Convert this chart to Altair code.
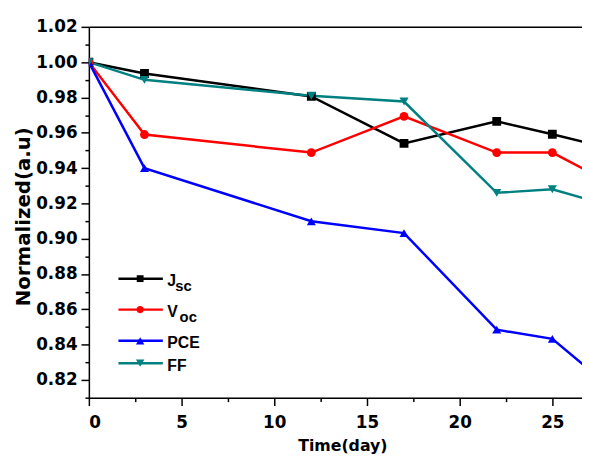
import altair as alt
import pandas as pd

# ---- data ----
days = [0, 3, 12, 17, 22, 25, 28]
jsc = [1.000, 0.9936, 0.9806, 0.954, 0.9665, 0.9592, 0.9514]
voc = [1.000, 0.959, 0.9488, 0.9693, 0.9488, 0.9488, 0.9323]
pce = [1.000, 0.940, 0.9099, 0.9032, 0.8485, 0.8433, 0.817]
ff = [1.000, 0.990, 0.981, 0.9777, 0.926, 0.928, 0.919]

series_names = ["Jsc", "Voc", "PCE", "FF"]
legend_main = ["J", "V", "PCE", "FF"]
legend_sub = ["sc", "oc", "", ""]
colors = ["#000000", "#FF0000", "#0000FF", "#008080"]
shapes = ["square", "circle", "triangle-up", "triangle-down"]
marker_sizes = [80, 85, 120, 120]

x_major = [0, 5, 10, 15, 20, 25]
x_minor = [2.5, 7.5, 12.5, 17.5, 22.5]
y_major = [0.82, 0.84, 0.86, 0.88, 0.90, 0.92, 0.94, 0.96, 0.98, 1.00, 1.02]
y_minor = [0.81, 0.83, 0.85, 0.87, 0.89, 0.91, 0.93, 0.95, 0.97, 0.99, 1.01]

rows = []
for name, vals in zip(series_names, [jsc, voc, pce, ff]):
    for d, v in zip(days, vals):
        rows.append({"day": d, "value": v, "series": name})
df = pd.DataFrame(rows)

W, H = 500, 376
XDOM = [0, 26.6]
YDOM = [0.81, 1.02]

xscale = alt.Scale(domain=XDOM, nice=False, zero=False)
yscale = alt.Scale(domain=YDOM, nice=False, zero=False)
cscale = alt.Scale(domain=series_names, range=colors)
sscale = alt.Scale(domain=series_names, range=shapes)
zscale = alt.Scale(domain=series_names, range=marker_sizes)

tick_font = "DejaVu Sans"
common_axis = dict(
    grid=False,
    domainColor="black",
    domainWidth=1.5,
    tickColor="black",
    tickWidth=1.5,
    labelColor="black",
    labelFont=tick_font,
    labelFontWeight="bold",
    labelFontSize=17,
    titleColor="black",
    titleFont=tick_font,
    titleFontWeight="bold",
)

x_main_axis = alt.Axis(
    orient="bottom", values=x_major, format="d", tickSize=8, labelPadding=9,
    title="Time(day)", titleFontSize=16, titleX=257, titleY=53.5, titleAnchor="middle",
    titleBaseline="alphabetic",
    **common_axis,
)
x_minor_axis = alt.Axis(
    orient="bottom", values=x_minor, tickSize=4, labels=False, domain=False,
    title=None, grid=False, tickColor="black", tickWidth=1.5,
)
x_top_axis = alt.Axis(
    orient="top", ticks=False, labels=False, domain=True, title=None, grid=False,
    domainColor="black", domainWidth=1.5,
)
y_main_axis = alt.Axis(
    orient="left", values=y_major, format=".2f", tickSize=8, labelPadding=4,
    title="Normalized(a.u)", titleFontSize=20, titleX=-56, titleY=192, titleAngle=-90,
    titleBaseline="bottom", titleAlign="center",
    **common_axis,
)
y_minor_axis = alt.Axis(
    orient="left", values=y_minor, tickSize=4, labels=False, domain=False,
    title=None, grid=False, tickColor="black", tickWidth=1.5,
)

base = alt.Chart(df)

lines = base.mark_line(clip=True, strokeWidth=2.5).encode(
    x=alt.X("day:Q", scale=xscale, axis=x_main_axis),
    y=alt.Y("value:Q", scale=yscale, axis=y_main_axis),
    color=alt.Color("series:N", scale=cscale, legend=None),
    detail="series:N",
)

points = base.mark_point(clip=True, filled=True, opacity=1).encode(
    x=alt.X("day:Q", scale=xscale, axis=x_minor_axis),
    y=alt.Y("value:Q", scale=yscale, axis=y_minor_axis),
    color=alt.Color("series:N", scale=cscale, legend=None),
    shape=alt.Shape("series:N", scale=sscale, legend=None),
    size=alt.Size("series:N", scale=zscale, legend=None),
)

top = base.mark_point(opacity=0, clip=True).encode(
    x=alt.X("day:Q", scale=xscale, axis=x_top_axis),
    y=alt.Y("value:Q", scale=yscale, axis=None),
)

# ---- manual legend (for subscripted labels) ----
legend_layers = []
row_y = [255.3, 286.7, 318.3, 341.0]
sub_x = [87.5, 92, 0, 0]
for i in range(4):
    ldf = pd.DataFrame({"main": [legend_main[i]], "sub": [legend_sub[i]]})
    lb = alt.Chart(ldf)
    legend_layers.append(
        lb.mark_rule(color=colors[i], strokeWidth=2.5).encode(
            x=alt.value(30), x2=alt.value(75), y=alt.value(row_y[i])
        )
    )
    legend_layers.append(
        lb.mark_point(filled=True, size=marker_sizes[i] * 0.6, color=colors[i],
                      opacity=1, shape=shapes[i]).encode(
            x=alt.value(52), y=alt.value(row_y[i])
        )
    )
    legend_layers.append(
        lb.mark_text(
            align="left", baseline="alphabetic", font="Liberation Sans",
            fontWeight="bold", fontSize=16, color="black",
        ).encode(x=alt.value(79.5), y=alt.value(row_y[i] + 7.5), text="main:N")
    )
    if legend_sub[i]:
        legend_layers.append(
            lb.mark_text(
                align="left", baseline="alphabetic", font="Liberation Sans",
                fontWeight="bold", fontSize=15, color="black",
            ).encode(x=alt.value(sub_x[i]), y=alt.value(row_y[i] + 12.5), text="sub:N")
        )

chart = (
    alt.layer(lines, points, top, *legend_layers)
    .resolve_axis(x="independent", y="independent")
    .properties(
        width=W,
        height=H,
        autosize=alt.AutoSizeParams(type="none"),
        padding={"left": 82, "top": 16, "right": 0, "bottom": 55},
    )
    .configure_view(stroke=None)
    .configure(background="white")
)

chart.save("out.html", embed_options={"renderer": "svg", "actions": False})
